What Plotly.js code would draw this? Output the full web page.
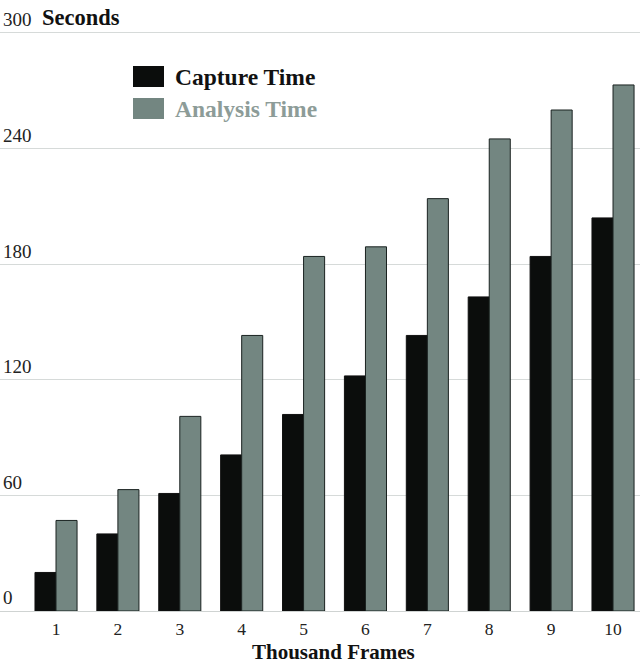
<!DOCTYPE html>
<html>
<head>
<meta charset="utf-8">
<script src="https://cdn.plot.ly/plotly-3.0.1.min.js"></script>
<style>html,body{margin:0;padding:0;background:#fff;}#chart{width:640px;height:666px;}</style>
</head>
<body>
<div id="chart"></div>
<script>
const frames = [1, 2, 3, 4, 5, 6, 7, 8, 9, 10];
const frameLabels = ['1', '2', '3', '4', '5', '6', '7', '8', '9', '10'];
const captureTime = [20, 40, 61, 81, 102, 122, 143, 163, 184, 204];
const analysisTime = [47, 63, 101, 143, 184, 189, 214, 245, 260, 273];
const seriesNames = ['Capture Time', 'Analysis Time'];
const yTicks = [0, 60, 120, 180, 240, 300];
const xTitle = 'Thousand Frames';
const yTitle = 'Seconds';

const FONT = '"Liberation Serif", "DejaVu Serif", serif';
const C_CAP = '#0b0d0c';
const C_ANA = '#738681';

const traces = [
  {type: 'bar', x: frames, y: captureTime, name: seriesNames[0],
   marker: {color: C_CAP, line: {color: '#111', width: 1}}, showlegend: false, hoverinfo: 'x+y'},
  {type: 'bar', x: frames, y: analysisTime, name: seriesNames[1],
   marker: {color: C_ANA, line: {color: '#1a2220', width: 1}}, showlegend: false, hoverinfo: 'x+y'}
];

const layout = {
  width: 640, height: 666,
  margin: {l: 0, r: 0, t: 10, b: 55},
  paper_bgcolor: '#fff', plot_bgcolor: '#fff',
  barmode: 'group', bargap: 0.32, bargroupgap: 0,
  font: {family: FONT, color: '#222', size: 19},
  xaxis: {
    range: [0.095, 10.436], tickvals: frames, ticktext: frameLabels,
    showgrid: false, zeroline: false, showline: true, linecolor: '#cfd3d2', linewidth: 1,
    ticks: '', ticklabelstandoff: 2, tickfont: {family: FONT, size: 17.5, color: '#222'},
    automargin: false
  },
  yaxis: {
    range: [0, 311.9], tickvals: yTicks, ticktext: yTicks.map(String),
    showgrid: true, gridcolor: '#d6dad9', gridwidth: 1, zeroline: false, showline: false,
    ticks: '', ticklabelposition: 'inside top', ticklabeloverflow: 'allow',
    tickfont: {family: FONT, size: 19, color: '#222'}
  },
  shapes: [
    {type: 'rect', xref: 'paper', yref: 'paper', x0: 133/640, x1: 164/640, y0: 0.8719, y1: 0.9068,
     fillcolor: C_CAP, line: {width: 0}},
    {type: 'rect', xref: 'paper', yref: 'paper', x0: 133/640, x1: 164/640, y0: 0.8186, y1: 0.8536,
     fillcolor: C_ANA, line: {width: 0}}
  ],
  annotations: [
    {xref: 'paper', yref: 'paper', x: 40/640, y: 0.988, xanchor: 'left', yanchor: 'middle',
     text: '<b>' + yTitle + '</b>', showarrow: false, font: {family: FONT, size: 22.5, color: '#111'}},
    {xref: 'paper', yref: 'paper', x: 333/640, y: -0.0683, xanchor: 'center', yanchor: 'middle',
     text: '<b>' + xTitle + '</b>', showarrow: false, borderpad: 0,
     font: {family: FONT, size: 21, color: '#111'}},
    {xref: 'paper', yref: 'paper', x: 173/640, y: 0.8885, xanchor: 'left', yanchor: 'middle',
     text: '<b>' + seriesNames[0] + '</b>', showarrow: false, font: {family: FONT, size: 23.5, color: '#111'}},
    {xref: 'paper', yref: 'paper', x: 173/640, y: 0.8353, xanchor: 'left', yanchor: 'middle',
     text: '<b>' + seriesNames[1] + '</b>', showarrow: false, font: {family: FONT, size: 23.5, color: '#8d9c98'}}
  ]
};

Plotly.newPlot('chart', traces, layout, {displayModeBar: false, staticPlot: true});
</script>
</body>
</html>
